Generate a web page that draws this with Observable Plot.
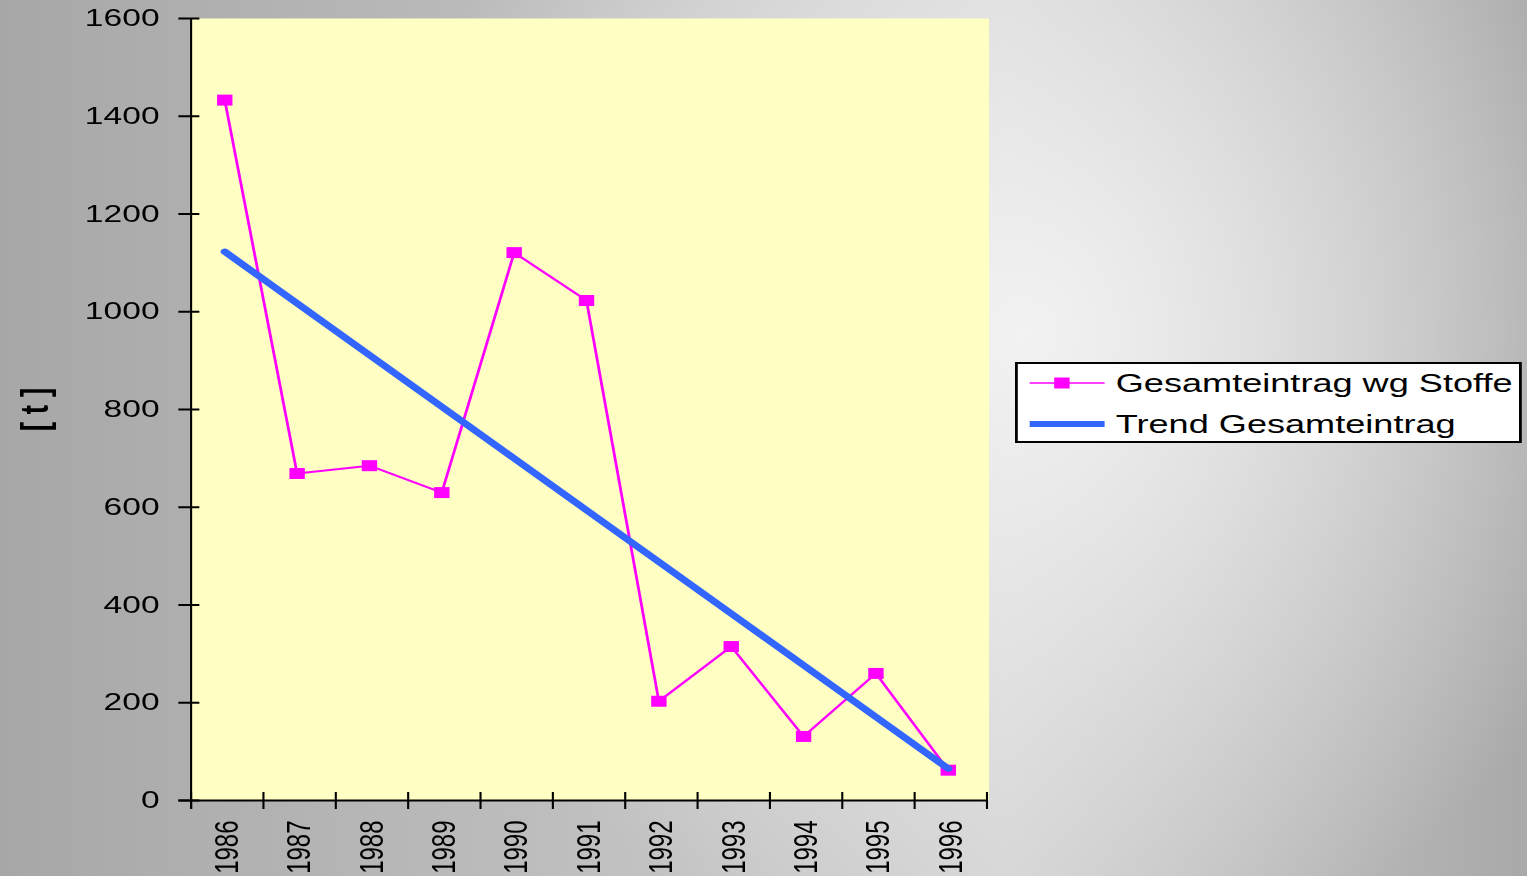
<!DOCTYPE html>
<html>
<head>
<meta charset="utf-8">
<script src="https://cdn.jsdelivr.net/npm/d3@7"></script>
<script src="https://cdn.jsdelivr.net/npm/@observablehq/plot@0.6"></script>
<style>
  html, body { margin: 0; padding: 0; width: 1527px; height: 876px; overflow: hidden; }
  body {
    background:
      radial-gradient(ellipse 42% 75% at 67% 38%, rgba(242,242,242,1) 0%, rgba(242,242,242,0.55) 45%, rgba(242,242,242,0) 100%),
      linear-gradient(to right, #a7a7a7 0%, #bdbdbd 35%, #d2d2d2 66%, #a9a9a9 100%);
  }
  #wrap { position: absolute; left: 0; top: 0; transform-origin: 0 0; }
  #legend { position: absolute; }
</style>
</head>
<body>
<div id="wrap"></div>
<script>
// ---- data ----
const years = [1986, 1987, 1988, 1989, 1990, 1991, 1992, 1993, 1994, 1995, 1996];
const values = [1433, 669, 685, 630, 1121, 1023, 203, 315, 131, 260, 62];
const trendYears = [1986, 1996];
const trendValues = [1123, 65];
const yTicks = [0, 200, 400, 600, 800, 1000, 1200, 1400, 1600];
const yearBounds = [1985.5, 1986.5, 1987.5, 1988.5, 1989.5, 1990.5, 1991.5, 1992.5, 1993.5, 1994.5, 1995.5, 1996.5];
const seriesNames = ["Gesamteintrag wg Stoffe", "Trend Gesamteintrag"];
const seriesColors = ["#ff00ff", "#3366ff"];
const yLabel = "[ t ]";

(function () {
const data = years.map((y, i) => ({year: y, value: values[i]}));
const trend = trendYears.map((y, i) => ({year: y, value: trendValues[i]}));

// The original picture is horizontally stretched; draw in logical units and scale X.
const S = 1.4;
const W = 1527 / S;
const H = 876;
const mLeft = 136, mRight = 704.5, mTop = 18, mBottom = 800;
const xMin = yearBounds[0], xMax = yearBounds[yearBounds.length - 1];
const pxPerYear = (mRight - mLeft) / (xMax - xMin);
const pxPerUnit = (mBottom - mTop) / 1600;
const shift = -1.8; // markers sit slightly left of band centres

const font = "'Liberation Sans', Arial, Helvetica, sans-serif";

const chart = Plot.plot({
  width: W,
  height: H,
  marginLeft: mLeft,
  marginRight: W - mRight,
  marginTop: mTop,
  marginBottom: H - mBottom,
  style: {background: "transparent", fontFamily: font, overflow: "visible"},
  x: {type: "linear", domain: [xMin, xMax], axis: null},
  y: {type: "linear", domain: [0, 1600], axis: null},
  marks: [
    Plot.frame({fill: "#ffffc4", stroke: null, insetRight: -1.5}),
    Plot.ruleY(yTicks, {x1: xMin - 8.6 / pxPerYear, x2: xMin + 6.4 / pxPerYear, stroke: "black", strokeWidth: 2}),
    Plot.ruleX(yearBounds, {y1: -9 / pxPerUnit, y2: 8 / pxPerUnit, stroke: "black", strokeWidth: 1.5}),
    Plot.ruleX([xMin], {y1: -9 / pxPerUnit, y2: 1600, stroke: "black", strokeWidth: 1.5}),
    Plot.ruleY([0], {x1: xMin - 8.6 / pxPerYear, x2: xMax, stroke: "black", strokeWidth: 2}),
    Plot.text(yTicks, {x: xMin, y: d => d, text: d => String(d), textAnchor: "end", dx: -22.5, fontSize: 24, fill: "black"}),
    Plot.text(years, {x: d => d, y: 0, text: d => String(d), rotate: -90, textAnchor: "end", lineAnchor: "middle", dy: 20, fontSize: 24, fill: "black"}),
    Plot.text([yLabel], {frameAnchor: "left", dx: 25 - mLeft, rotate: -90, textAnchor: "middle", lineAnchor: "middle", fontSize: 28, fontWeight: "bold", fill: "black"}),
    Plot.line(data, {x: "year", y: "value", dx: shift, stroke: seriesColors[0], strokeWidth: 2}),
    Plot.dot(data, {x: "year", y: "value", dx: shift, symbol: "square", r: 6.2, fill: seriesColors[0], stroke: null}),
    Plot.line(trend, {x: "year", y: "value", dx: shift, stroke: seriesColors[1], strokeWidth: 6})
  ]
});

const wrap = document.getElementById("wrap");
wrap.style.width = W + "px";
wrap.style.height = H + "px";
wrap.style.transform = `scaleX(${S})`;
wrap.appendChild(chart);

// ---- legend (logical units) ----
const lg = {x: 725, y: 362, w: 362, h: 81};
const legend = d3.create("svg")
  .attr("id", "legend")
  .attr("width", lg.w)
  .attr("height", lg.h)
  .style("left", lg.x + "px")
  .style("top", lg.y + "px")
  .style("font-family", font);
legend.append("rect")
  .attr("x", 1).attr("y", 1).attr("width", lg.w - 2).attr("height", lg.h - 2)
  .attr("fill", "white").attr("stroke", "black").attr("stroke-width", 2);
const rows = [
  {name: seriesNames[0], color: seriesColors[0], lineY: 21, textY: 30, width: 1.5, marker: true},
  {name: seriesNames[1], color: seriesColors[1], lineY: 62, textY: 71, width: 6, marker: false}
];
rows.forEach(r => {
  legend.append("line")
    .attr("x1", 10.5).attr("x2", 64).attr("y1", r.lineY).attr("y2", r.lineY)
    .attr("stroke", r.color).attr("stroke-width", r.width);
  if (r.marker) {
    legend.append("rect")
      .attr("x", 33.5 - 5.5).attr("y", r.lineY - 5.5).attr("width", 11).attr("height", 11)
      .attr("fill", r.color);
  }
  legend.append("text")
    .attr("x", 72).attr("y", r.textY)
    .attr("font-size", 25.8).attr("fill", "black")
    .text(r.name);
});
wrap.appendChild(legend.node());
})();
</script>
</body>
</html>
